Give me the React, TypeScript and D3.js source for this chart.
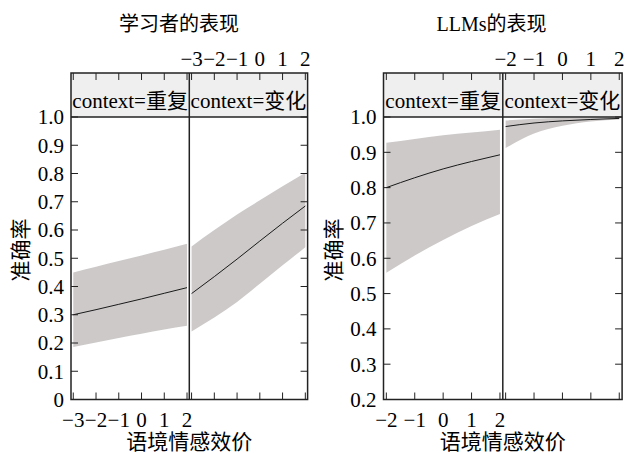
import React from 'react';
import * as d3 from 'd3';

// facet labels
const contexts = ['context=重复', 'context=变化'];

// learners: predicted accuracy by contextual valence
const learnerX = [-3, -2, -1, 0, 1, 2];
const learnerRepeatFit = [0.3, 0.318, 0.337, 0.356, 0.376, 0.396];
const learnerRepeatLo = [0.186, 0.202, 0.218, 0.233, 0.248, 0.261];
const learnerRepeatHi = [0.45, 0.47, 0.49, 0.51, 0.53, 0.551];
const learnerChangeFit = [0.375, 0.435, 0.497, 0.561, 0.624, 0.685];
const learnerChangeLo = [0.241, 0.29, 0.345, 0.41, 0.475, 0.539];
const learnerChangeHi = [0.542, 0.6, 0.655, 0.705, 0.755, 0.803];
const learnerYTicks = [0, 0.1, 0.2, 0.3, 0.4, 0.5, 0.6, 0.7, 0.8, 0.9, 1.0];

// LLMs
const llmX = [-2, -1, 0, 1, 2];
const llmRepeatFit = [0.8, 0.828, 0.853, 0.874, 0.893];
const llmRepeatLo = [0.559, 0.608, 0.652, 0.691, 0.725];
const llmRepeatHi = [0.927, 0.938, 0.948, 0.956, 0.964];
const llmChangeFit = [0.973, 0.983, 0.989, 0.993, 0.996];
const llmChangeLo = [0.912, 0.953, 0.975, 0.987, 0.993];
const llmChangeHi = [0.99, 0.995, 0.997, 0.998, 0.999];
const llmYTicks = [0.2, 0.3, 0.4, 0.5, 0.6, 0.7, 0.8, 0.9, 1.0];

const font = '"Liberation Serif", "Noto Sans CJK SC", serif';
const frame = '#222';
const tickLen = 7;

const fmt = (v: number) => (v === 0 ? '0' : d3.format('.1f')(v));
const minus = (v: number) => (v < 0 ? `\u2212${-v}` : `${v}`);

function Facet({ chart }: { chart: any }) {
  const { left, panelW, xDomain, yDomain, yTicks, xs, series, title, titleX } = chart;
  const top = 73;
  const stripH = 44;
  const plotTop = top + stripH;
  const bottom = 399.5;
  const y = d3.scaleLinear().domain(yDomain).range([bottom, plotTop]);
  const right = left + panelW * 2;

  return (
    <g>
      <text x={titleX} y={31} fontSize={20} textAnchor="middle">
        {title}
      </text>
      {series.map((s: any, i: number) => {
        const x0 = left + i * panelW;
        const x = d3.scaleLinear().domain(xDomain).range([x0, x0 + panelW]);
        const pts = xs.map((v: number, j: number) => ({ v, fit: s.fit[j], lo: s.lo[j], hi: s.hi[j] }));
        const area = d3
          .area<any>()
          .x((d) => x(d.v))
          .y0((d) => y(d.lo))
          .y1((d) => y(d.hi))
          .curve(d3.curveMonotoneX);
        const line = d3
          .line<any>()
          .x((d) => x(d.v))
          .y((d) => y(d.fit))
          .curve(d3.curveMonotoneX);
        return (
          <g key={i}>
            <rect x={x0} y={top} width={panelW} height={stripH} fill="#efefef" />
            <path d={area(pts) || ''} fill="#cdc9c9" />
            <path d={line(pts) || ''} fill="none" stroke="#1a1a1a" strokeWidth={1} />
            <text x={x0 + panelW / 2} y={108} fontSize={21} textAnchor="middle">
              {contexts[i]}
            </text>
            {xs.map((t: number) => (
              <g key={t}>
                <line x1={x(t)} x2={x(t)} y1={top} y2={top + tickLen} stroke={frame} />
                <line x1={x(t)} x2={x(t)} y1={bottom} y2={bottom - tickLen} stroke={frame} />
                {i === 0 ? (
                  <text x={x(t)} y={427} fontSize={21} textAnchor="middle">
                    {minus(t)}
                  </text>
                ) : (
                  <text x={x(t)} y={66} fontSize={21} textAnchor="middle">
                    {minus(t)}
                  </text>
                )}
              </g>
            ))}
          </g>
        );
      })}
      {yTicks.map((t: number) => (
        <g key={t}>
          <line x1={left} x2={left + tickLen} y1={y(t)} y2={y(t)} stroke={frame} />
          <line x1={right} x2={right - tickLen} y1={y(t)} y2={y(t)} stroke={frame} />
          <text x={left - 7} y={y(t)} dy="0.35em" fontSize={21} textAnchor="end">
            {fmt(t)}
          </text>
        </g>
      ))}
      <rect x={left} y={top} width={panelW * 2} height={bottom - top} fill="none" stroke={frame} strokeWidth={1.5} />
      <line x1={left} x2={right} y1={plotTop} y2={plotTop} stroke={frame} strokeWidth={1.5} />
      <line x1={left + panelW} x2={left + panelW} y1={top} y2={bottom} stroke={frame} strokeWidth={1.5} />
      <text x={left + panelW} y={449} fontSize={21} textAnchor="middle">
        语境情感效价
      </text>
      <text
        transform={`translate(${left - 43}, 250) rotate(-90)`}
        fontSize={21}
        textAnchor="middle"
      >
        准确率
      </text>
    </g>
  );
}

export default function App() {
  const charts = [
    {
      title: '学习者的表现',
      titleX: 179,
      left: 71,
      panelW: 118.3,
      xDomain: [-3.1, 2.1],
      yDomain: [0, 1],
      yTicks: learnerYTicks,
      xs: learnerX,
      series: [
        { fit: learnerRepeatFit, lo: learnerRepeatLo, hi: learnerRepeatHi },
        { fit: learnerChangeFit, lo: learnerChangeLo, hi: learnerChangeHi },
      ],
    },
    {
      title: 'LLMs的表现',
      titleX: 491.5,
      left: 383.5,
      panelW: 119.3,
      xDomain: [-2.1, 2.1],
      yDomain: [0.2, 1],
      yTicks: llmYTicks,
      xs: llmX,
      series: [
        { fit: llmRepeatFit, lo: llmRepeatLo, hi: llmRepeatHi },
        { fit: llmChangeFit, lo: llmChangeLo, hi: llmChangeHi },
      ],
    },
  ];
  return (
    <svg
      width={625}
      height={453}
      style={{ position: 'absolute', left: 0, top: 0, background: '#fff' }}
      fontFamily={font}
    >
      {charts.map((c) => (
        <Facet key={c.title} chart={c} />
      ))}
    </svg>
  );
}
